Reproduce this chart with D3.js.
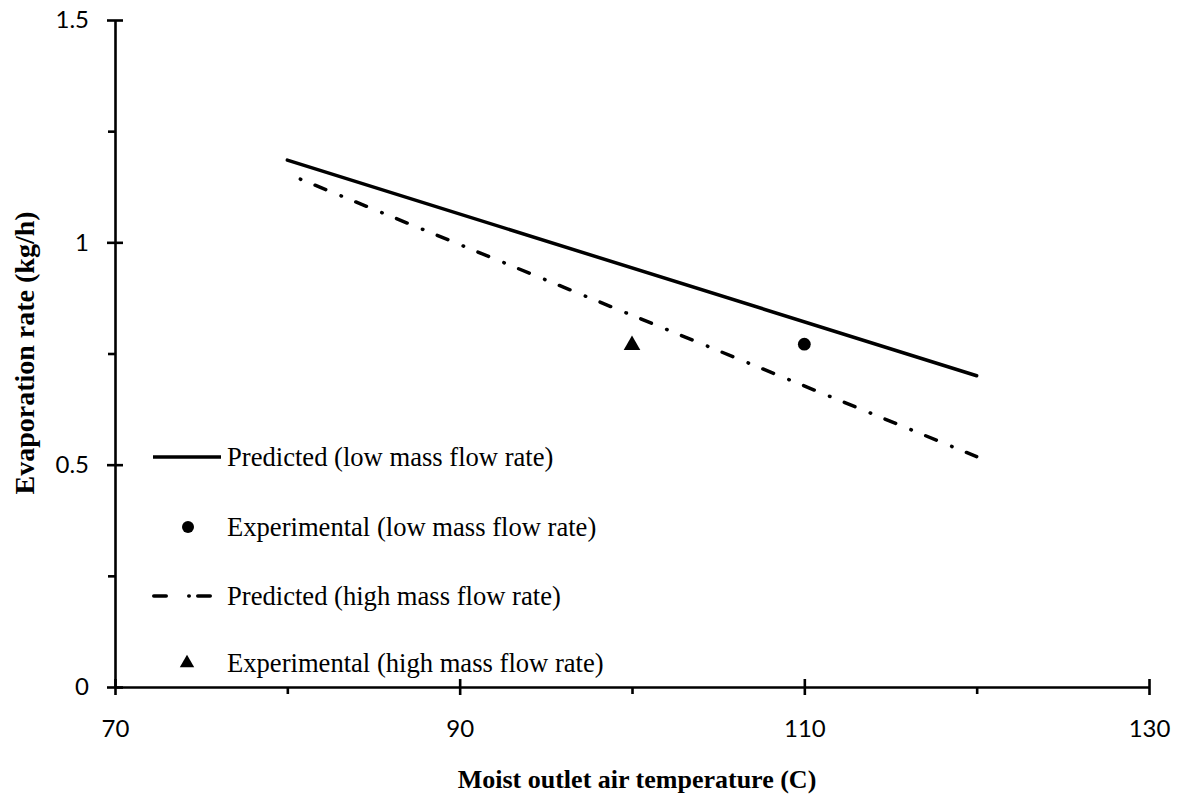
<!DOCTYPE html>
<html>
<head>
<meta charset="utf-8">
<script src="https://cdn.jsdelivr.net/npm/d3@7"></script>
<style>
  html, body { margin: 0; padding: 0; background: #fff; }
  svg { display: block; }
</style>
</head>
<body>
<svg id="chart" width="1177" height="796"></svg>
<script>
// Predicted curves (temperature in C, evaporation in kg/h)
const predLowX = [80, 120];
const predLowY = [1.185, 0.70];
const predHighX = [80, 120];
const predHighY = [1.154, 0.518];

// Experimental points
const expLowX = [110];
const expLowY = [0.771];
const expHighX = [100];
const expHighY = [0.771];

// Axis ticks
const xMajorTicks = [70, 90, 110, 130];
const xMinorTicks = [80, 100, 120];
const yMajorTicks = [0, 0.5, 1, 1.5];
const yMinorTicks = [0.25, 0.75, 1.25];

const legendLabels = [
  "Predicted (low mass flow rate)",
  "Experimental (low mass flow rate)",
  "Predicted (high mass flow rate)",
  "Experimental (high mass flow rate)"
];

const svg = d3.select("#chart");
const x = d3.scaleLinear().domain([70, 130]).range([115, 1149]);
const y = d3.scaleLinear().domain([0, 1.5]).range([687, 20]);

const tickFont = "Lato, 'Open Sans', sans-serif";
const serif = "'Liberation Serif', 'Times New Roman', serif";
const axisW = 2.6;

function styleAxis(g, showText) {
  g.selectAll("path.domain").attr("stroke", "#000").attr("stroke-width", axisW);
  g.selectAll(".tick line").attr("stroke", "#000").attr("stroke-width", axisW);
  g.selectAll(".tick text")
    .attr("fill", "#000")
    .style("font-family", tickFont)
    .style("font-size", "24px")
    .style("display", showText ? null : "none");
}

// Y axis: major ticks cross the line, minor ticks point outward
const yAxisG = svg.append("g").attr("transform", `translate(${x(70)},0)`);
yAxisG.call(d3.axisLeft(y).tickValues(yMajorTicks).tickSizeInner(8).tickSizeOuter(0)
  .tickPadding(18).tickFormat(d3.format("")));
styleAxis(yAxisG, true);
const yIn = svg.append("g").attr("transform", `translate(${x(70)},0)`)
  .call(d3.axisRight(y).tickValues(yMajorTicks).tickSize(8).tickFormat(""));
styleAxis(yIn, false);
yIn.select("path.domain").remove();
const yMinor = svg.append("g").attr("transform", `translate(${x(70)},0)`)
  .call(d3.axisLeft(y).tickValues(yMinorTicks).tickSize(7).tickFormat(""));
styleAxis(yMinor, false);
yMinor.select("path.domain").remove();

// X axis
const xAxisG = svg.append("g").attr("transform", `translate(0,${y(0)})`);
xAxisG.call(d3.axisBottom(x).tickValues(xMajorTicks).tickSizeInner(8).tickSizeOuter(0)
  .tickPadding(25).tickFormat(d3.format("")));
styleAxis(xAxisG, true);
const xIn = svg.append("g").attr("transform", `translate(0,${y(0)})`)
  .call(d3.axisTop(x).tickValues(xMajorTicks).tickSize(8).tickFormat(""));
styleAxis(xIn, false);
xIn.select("path.domain").remove();
const xMinor = svg.append("g").attr("transform", `translate(0,${y(0)})`)
  .call(d3.axisBottom(x).tickValues(xMinorTicks).tickSize(7).tickFormat(""));
styleAxis(xMinor, false);
xMinor.select("path.domain").remove();

// Axis titles
svg.append("text")
  .attr("x", 637).attr("y", 788)
  .attr("text-anchor", "middle")
  .style("font-family", serif).style("font-weight", "bold").style("font-size", "26px")
  .text("Moist outlet air temperature (C)");
svg.append("text")
  .attr("transform", "translate(34,353) rotate(-90)")
  .attr("text-anchor", "middle")
  .style("font-family", serif).style("font-weight", "bold").style("font-size", "28px")
  .text("Evaporation rate (kg/h)");

const line = d3.line().x(d => x(d[0])).y(d => y(d[1]));
const lowPts = d3.zip(predLowX, predLowY);
const highPts = d3.zip(predHighX, predHighY);

// Solid predicted line (low flow)
svg.append("path").datum(lowPts)
  .attr("d", line)
  .attr("fill", "none").attr("stroke", "#000").attr("stroke-width", 3.5)
  .attr("stroke-linecap", "round");

// Dash-dot predicted line (high flow)
svg.append("path").datum(highPts)
  .attr("d", line)
  .attr("fill", "none").attr("stroke", "#000").attr("stroke-width", 3.5)
  .attr("stroke-linecap", "round")
  .attr("stroke-dasharray", "11.5,16.5,0.5,15.5")
  .attr("stroke-dashoffset", 14);

// Experimental markers
svg.selectAll("circle.exp-low").data(d3.zip(expLowX, expLowY)).enter()
  .append("circle").attr("class", "exp-low")
  .attr("cx", d => x(d[0])).attr("cy", d => y(d[1])).attr("r", 6.4)
  .attr("fill", "#000");

const triangle = d3.symbol().type(d3.symbolTriangle).size(120);
svg.selectAll("path.exp-high").data(d3.zip(expHighX, expHighY)).enter()
  .append("path").attr("class", "exp-high")
  .attr("transform", d => `translate(${x(d[0])},${y(d[1]) + 1})`)
  .attr("d", triangle)
  .attr("fill", "#000");

// Legend
const legendRows = [457, 527, 596, 663];
const lg = svg.append("g");
lg.append("line").attr("x1", 153).attr("x2", 221).attr("y1", legendRows[0]).attr("y2", legendRows[0])
  .attr("stroke", "#000").attr("stroke-width", 3.5);
lg.append("circle").attr("cx", 188).attr("cy", legendRows[1]).attr("r", 6).attr("fill", "#000");
lg.append("line").attr("x1", 153.75).attr("x2", 210.25).attr("y1", legendRows[2]).attr("y2", legendRows[2])
  .attr("stroke", "#000").attr("stroke-width", 3.5).attr("stroke-linecap", "round")
  .attr("stroke-dasharray", "12.5,22.5,0.5,8.5,12.5");
lg.append("path").attr("transform", `translate(187,${legendRows[3]})`)
  .attr("d", d3.symbol().type(d3.symbolTriangle).size(90)).attr("fill", "#000");

lg.selectAll("text.lab").data(legendLabels).enter()
  .append("text").attr("class", "lab")
  .attr("x", 227).attr("y", (d, i) => legendRows[i] + 9)
  .style("font-family", serif).style("font-size", "26.6px")
  .attr("fill", "#000")
  .text(d => d);
</script>
</body>
</html>
